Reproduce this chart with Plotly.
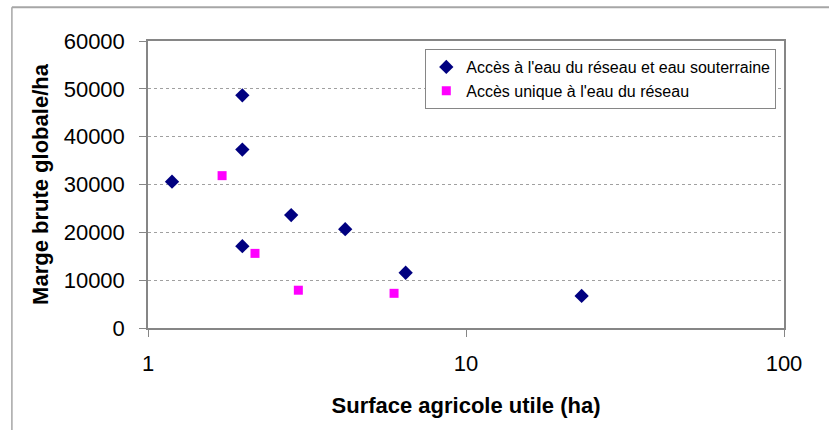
"""Marge brute globale/ha vs surface agricole utile (log scale)."""
import plotly.graph_objects as go

# Accès à l'eau du réseau et eau souterraine
surface_mixte = [1.19, 1.98, 1.98, 2.82, 1.98, 4.17, 6.46, 23.1]
marge_mixte = [30600, 48650, 37300, 23600, 17100, 20650, 11550, 6700]

# Accès unique à l'eau du réseau
surface_reseau = [1.71, 2.17, 2.97, 5.94]
marge_reseau = [31850, 15600, 7900, 7250]

x_ticks = [1, 10, 100]
y_ticks = [0, 10000, 20000, 30000, 40000, 50000, 60000]

FONT = "Liberation Sans, Arial, sans-serif"
AXIS_GREY = "#868686"
FRAME_GREY = "#a6a6a6"

fig = go.Figure()

fig.add_trace(
    go.Scatter(
        x=surface_mixte,
        y=marge_mixte,
        mode="markers",
        name="Accès à l'eau du réseau et eau souterraine",
        marker=dict(symbol="diamond", size=11, color="#000080"),
    )
)
fig.add_trace(
    go.Scatter(
        x=surface_reseau,
        y=marge_reseau,
        mode="markers",
        name="Accès unique à l'eau du réseau",
        marker=dict(symbol="square", size=9, color="#FF00FF"),
    )
)

fig.update_layout(
    width=829,
    height=430,
    margin=dict(l=148, r=45, t=41, b=102),
    paper_bgcolor="white",
    plot_bgcolor="white",
    font=dict(family=FONT, color="black"),
    showlegend=True,
    legend=dict(
        x=0.436,
        y=0.972,
        xanchor="left",
        yanchor="top",
        bordercolor=AXIS_GREY,
        borderwidth=1,
        bgcolor="white",
        font=dict(size=16, family=FONT),
        itemwidth=30,
    ),
    # grey frame around the whole chart (top and left edges are in view)
    shapes=[
        dict(
            type="line", xref="paper", yref="paper", layer="above",
            x0=-0.214, x1=1.1, y0=1.118, y1=1.118,
            line=dict(color=FRAME_GREY, width=2),
        ),
        dict(
            type="line", xref="paper", yref="paper", layer="above",
            x0=-0.214, x1=-0.214, y0=-0.4, y1=1.118,
            line=dict(color=FRAME_GREY, width=1.5),
        ),
    ],
)

fig.update_xaxes(
    type="log",
    range=[0, 2],
    tickvals=x_ticks,
    ticktext=[str(v) for v in x_ticks],
    ticks="outside",
    ticklen=7,
    tickcolor=AXIS_GREY,
    ticklabelstandoff=8,
    tickfont=dict(size=22),
    showgrid=False,
    showline=True,
    linecolor=AXIS_GREY,
    linewidth=1.5,
    mirror=True,
    automargin=False,
    title=dict(
        text="<b>Surface agricole utile (ha)</b>",
        font=dict(size=22),
        standoff=22,
    ),
)

fig.update_yaxes(
    range=[0, 60000],
    tickvals=y_ticks,
    ticktext=[str(v) for v in y_ticks],
    ticks="outside",
    ticklen=7,
    tickcolor=AXIS_GREY,
    ticklabelstandoff=10,
    tickfont=dict(size=22),
    showgrid=True,
    gridcolor="#a0a0a0",
    griddash="dot",
    gridwidth=1,
    zeroline=False,
    showline=True,
    linecolor=AXIS_GREY,
    linewidth=1.5,
    mirror=True,
    automargin=False,
    title=dict(
        text="<b>Marge brute globale/ha</b>",
        font=dict(size=22),
        standoff=9,
    ),
)

# drop the default page margin so the figure sits at the window origin
fig.write_html(
    "out.html",
    config={"displayModeBar": False},
    post_script="document.body.style.margin='0';",
)
